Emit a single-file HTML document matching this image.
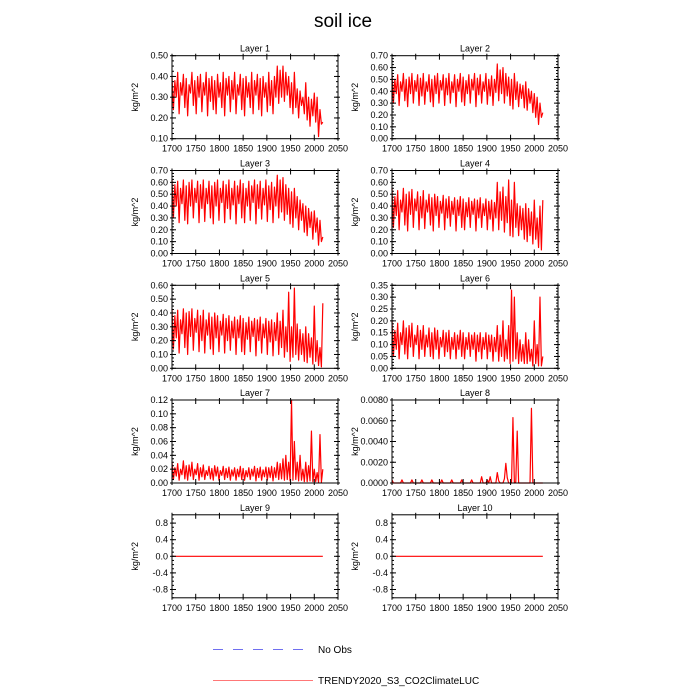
<!DOCTYPE html>
<html><head><meta charset="utf-8"><style>
html,body{margin:0;padding:0;background:#fff;}
svg{display:block;font-family:"Liberation Sans",sans-serif;}
</style></head><body>
<svg id="chart" width="700" height="700" viewBox="0 0 700 700" xmlns="http://www.w3.org/2000/svg">
<text x="343" y="27" font-size="19" text-anchor="middle">soil ice</text>
<g>
<line x1="213" y1="649.5" x2="310" y2="649.5" stroke="#6f6ff0" stroke-width="1" stroke-dasharray="10,10"/>
<text x="318" y="653" font-size="10">No Obs</text>
<line x1="213" y1="680.5" x2="313" y2="680.5" stroke="#ff7777" stroke-width="1"/>
<text x="318" y="684" font-size="10">TRENDY2020_S3_CO2ClimateLUC</text>
</g>
</svg>
<script>
const xTicks=[1700,1750,1800,1850,1900,1950,2000,2050];
const layerNames=["Layer 1","Layer 2","Layer 3","Layer 4","Layer 5","Layer 6","Layer 7","Layer 8","Layer 9","Layer 10"];
const yMins=[0.1,0,0,0,0,0,0,0,-1,-1];
const yMaxs=[0.5,0.7,0.7,0.7,0.6,0.35,0.12,0.008,1,1];
const yTicks=[
 [0.1,0.2,0.3,0.4,0.5],
 [0,0.1,0.2,0.3,0.4,0.5,0.6,0.7],
 [0,0.1,0.2,0.3,0.4,0.5,0.6,0.7],
 [0,0.1,0.2,0.3,0.4,0.5,0.6,0.7],
 [0,0.1,0.2,0.3,0.4,0.5,0.6],
 [0,0.05,0.1,0.15,0.2,0.25,0.3,0.35],
 [0,0.02,0.04,0.06,0.08,0.1,0.12],
 [0,0.002,0.004,0.006,0.008],
 [-0.8,-0.4,0,0.4,0.8],
 [-0.8,-0.4,0,0.4,0.8]];
const yDecimals=[2,2,2,2,2,2,2,4,1,1];
const firstYear=1700, yearStep=3;
const layer1=[0.40,0.24,0.38,0.30,0.42,0.22,0.37,0.31,0.41,0.25,0.39,0.21,0.36,0.32,0.42,0.26,0.38,0.22,0.40,0.30,0.41,0.23,0.37,0.31,0.42,0.21,0.39,0.28,0.40,0.24,0.38,0.22,0.41,0.30,0.37,0.25,0.42,0.21,0.39,0.31,0.40,0.23,0.38,0.29,0.42,0.22,0.36,0.31,0.41,0.24,0.39,0.21,0.40,0.30,0.37,0.25,0.42,0.22,0.38,0.31,0.41,0.24,0.39,0.21,0.40,0.30,0.37,0.23,0.42,0.26,0.38,0.22,0.40,0.30,
0.45,0.27,0.43,0.30,0.45,0.28,0.42,0.31,0.40,0.25,0.37,0.22,0.42,0.25,0.34,0.20,0.33,0.26,0.30,0.22,0.37,0.19,0.30,0.16,0.29,0.21,0.32,0.18,0.30,0.11,0.24,0.17,0.18];
const layer2=[0.55,0.30,0.50,0.38,0.54,0.28,0.48,0.40,0.55,0.32,0.50,0.27,0.52,0.38,0.55,0.30,0.49,0.40,0.54,0.28,0.51,0.36,0.55,0.29,0.48,0.40,0.54,0.31,0.50,0.27,0.53,0.38,0.55,0.30,0.49,0.41,0.54,0.28,0.51,0.37,0.55,0.30,0.48,0.39,0.54,0.27,0.50,0.40,0.55,0.31,0.52,0.28,0.49,0.38,0.54,0.30,0.50,0.41,0.55,0.27,0.51,0.37,0.54,0.30,0.48,0.40,0.55,0.29,0.50,0.36,0.53,0.28,0.50,0.39,
0.63,0.32,0.58,0.38,0.60,0.30,0.55,0.36,0.52,0.28,0.50,0.25,0.55,0.33,0.48,0.27,0.46,0.34,0.45,0.26,0.48,0.24,0.42,0.30,0.40,0.22,0.38,0.18,0.35,0.12,0.30,0.18,0.22];
const layer3=[0.62,0.30,0.58,0.40,0.61,0.26,0.55,0.42,0.62,0.28,0.57,0.25,0.60,0.40,0.62,0.30,0.55,0.43,0.61,0.26,0.58,0.38,0.62,0.27,0.55,0.42,0.61,0.30,0.57,0.25,0.60,0.40,0.62,0.28,0.55,0.43,0.61,0.26,0.58,0.38,0.62,0.29,0.55,0.41,0.61,0.25,0.57,0.42,0.62,0.30,0.59,0.26,0.55,0.40,0.61,0.28,0.57,0.43,0.62,0.25,0.58,0.38,0.61,0.29,0.55,0.41,0.62,0.27,0.57,0.37,0.60,0.26,0.56,0.40,
0.66,0.30,0.62,0.35,0.64,0.28,0.58,0.33,0.55,0.25,0.52,0.22,0.55,0.30,0.48,0.20,0.45,0.28,0.42,0.18,0.40,0.15,0.38,0.22,0.35,0.12,0.36,0.18,0.30,0.07,0.28,0.10,0.14];
const layer4=[0.55,0.22,0.48,0.32,0.53,0.20,0.45,0.35,0.55,0.24,0.50,0.19,0.52,0.33,0.54,0.22,0.46,0.36,0.52,0.20,0.48,0.30,0.53,0.21,0.45,0.35,0.50,0.24,0.47,0.19,0.50,0.32,0.48,0.22,0.44,0.34,0.49,0.20,0.46,0.30,0.48,0.23,0.44,0.33,0.47,0.19,0.45,0.32,0.48,0.22,0.46,0.20,0.43,0.31,0.47,0.22,0.44,0.33,0.46,0.19,0.45,0.30,0.47,0.22,0.42,0.32,0.46,0.20,0.44,0.29,0.45,0.19,0.43,0.30,
0.60,0.20,0.52,0.28,0.56,0.18,0.48,0.26,0.62,0.15,0.45,0.14,0.60,0.22,0.42,0.15,0.40,0.20,0.38,0.12,0.42,0.10,0.38,0.15,0.35,0.08,0.45,0.12,0.30,0.05,0.40,0.03,0.45];
const layer5=[0.43,0.14,0.38,0.22,0.42,0.11,0.35,0.25,0.43,0.15,0.40,0.10,0.41,0.23,0.43,0.13,0.36,0.26,0.42,0.12,0.38,0.20,0.42,0.11,0.35,0.24,0.40,0.14,0.37,0.10,0.40,0.22,0.38,0.12,0.34,0.24,0.39,0.11,0.36,0.20,0.38,0.13,0.34,0.22,0.37,0.10,0.35,0.22,0.38,0.12,0.36,0.10,0.33,0.21,0.37,0.12,0.34,0.23,0.36,0.09,0.35,0.20,0.37,0.11,0.32,0.22,0.36,0.10,0.34,0.19,0.35,0.09,0.33,0.20,
0.40,0.10,0.34,0.15,0.42,0.08,0.30,0.12,0.55,0.05,0.30,0.08,0.58,0.10,0.32,0.06,0.28,0.10,0.25,0.05,0.30,0.04,0.25,0.08,0.22,0.03,0.45,0.05,0.20,0.02,0.15,0.01,0.47];
const layer6=[0.20,0.05,0.16,0.08,0.19,0.04,0.15,0.10,0.20,0.06,0.17,0.04,0.18,0.09,0.19,0.05,0.14,0.10,0.18,0.04,0.16,0.08,0.18,0.05,0.14,0.09,0.17,0.05,0.15,0.04,0.17,0.08,0.16,0.04,0.13,0.09,0.16,0.05,0.15,0.07,0.16,0.04,0.13,0.08,0.15,0.04,0.14,0.08,0.16,0.05,0.15,0.04,0.13,0.08,0.15,0.05,0.14,0.08,0.15,0.03,0.14,0.07,0.15,0.04,0.13,0.08,0.15,0.04,0.14,0.07,0.14,0.03,0.13,0.07,
0.18,0.03,0.14,0.05,0.20,0.03,0.12,0.04,0.18,0.02,0.33,0.03,0.30,0.04,0.15,0.02,0.12,0.03,0.10,0.02,0.15,0.02,0.12,0.03,0.08,0.01,0.20,0.02,0.10,0.01,0.30,0.01,0.05];
const layer7=[0.030,0.005,0.022,0.010,0.028,0.004,0.020,0.012,0.032,0.006,0.025,0.004,0.026,0.010,0.030,0.005,0.020,0.012,0.028,0.004,0.022,0.009,0.026,0.005,0.018,0.011,0.024,0.006,0.021,0.004,0.025,0.010,0.023,0.004,0.018,0.011,0.024,0.005,0.021,0.008,0.023,0.004,0.019,0.010,0.022,0.004,0.020,0.009,0.024,0.005,0.021,0.004,0.018,0.009,0.022,0.005,0.020,0.010,0.024,0.003,0.021,0.008,0.023,0.004,0.019,0.009,0.023,0.004,0.022,0.008,0.024,0.003,0.022,0.008,
0.030,0.005,0.028,0.006,0.035,0.004,0.040,0.005,0.030,0.003,0.120,0.004,0.060,0.005,0.030,0.003,0.040,0.004,0.020,0.002,0.030,0.002,0.025,0.003,0.075,0.002,0.020,0.002,0.015,0.001,0.070,0.001,0.020];
const layer8=[0.0003,0,0,0,0,0,0,0.0003,0,0,0,0,0,0,0.0003,0,0,0,0,0,0,0.0003,0,0,0,0,0,0,0.0003,0,0,0,0,0,0,0.0003,0,0,0,0,0,0,0.0003,0,0,0,0,0,0,0.0003,0,0,0,0,0,0,0.0003,0,0,0,0,0,0,0.0006,0,0,0,0.0003,0,0.0006,0,0,0,0,
0.001,0.0002,0,0,0,0.0004,0.0019,0.0005,0,0,0,0.0063,0,0.0001,0.005,0,0,0,0,0,0,0,0,0,0.0072,0,0,0,0,0,0,0,0];
const layer9=[0,0,0,0,0,0,0,0,0,0,0,0,0,0,0,0,0,0,0,0,0,0,0,0,0,0,0,0,0,0,0,0,0,0,0,0,0,0,0,0,0,0,0,0,0,0,0,0,0,0,0,0,0,0,0,0,0,0,0,0,0,0,0,0,0,0,0,0,0,0,0,0,0,0,0,0,0,0,0,0,0,0,0,0,0,0,0,0,0,0,0,0,0,0,0,0,0,0,0,0,0,0,0,0,0,0,0];
const layer10=[0,0,0,0,0,0,0,0,0,0,0,0,0,0,0,0,0,0,0,0,0,0,0,0,0,0,0,0,0,0,0,0,0,0,0,0,0,0,0,0,0,0,0,0,0,0,0,0,0,0,0,0,0,0,0,0,0,0,0,0,0,0,0,0,0,0,0,0,0,0,0,0,0,0,0,0,0,0,0,0,0,0,0,0,0,0,0,0,0,0,0,0,0,0,0,0,0,0,0,0,0,0,0,0,0,0,0];
const series=[layer1,layer2,layer3,layer4,layer5,layer6,layer7,layer8,layer9,layer10];

const NS="http://www.w3.org/2000/svg";
const svg=document.getElementById('chart');
function mk(tag,attrs,parent){const e=document.createElementNS(NS,tag);for(const k in attrs)e.setAttribute(k,attrs[k]);parent.appendChild(e);return e;}
const colX=[172,392], rowY=[55.7,170.5,285.3,400,514.8], PW=166, PH=83;
for(let p=0;p<10;p++){
  const x0=colX[p%2], y0=rowY[Math.floor(p/2)];
  const ymin=yMins[p], ymax=yMaxs[p];
  const sx=v=>x0+(v-1700)/(2050-1700)*PW;
  const sy=v=>y0+PH-(v-ymin)/(ymax-ymin)*PH;
  const g=mk('g',{},svg);
  
  
  const t=mk('text',{x:x0+PW/2,y:y0-4,'font-size':9,'text-anchor':'middle'},g);
  
  
  t.textContent=layerNames[p];
  const vals=series[p];
  let d='';
  vals.forEach((v,i)=>{const yr=firstYear+i*yearStep;d+=(i?'L':'M')+sx(yr).toFixed(2)+','+sy(v).toFixed(2);});
  const ln=mk('path',{d:d,fill:'none',stroke:'#ff0000','stroke-width':1.2,'stroke-linejoin':'round'},g);
  
  
  const fr=mk('rect',{x:x0,y:y0,width:PW,height:PH,fill:'none',stroke:'#000','stroke-width':1},g);
  
  
  xTicks.forEach(yr=>{
    const X=sx(yr);
    mk('line',{x1:X,y1:y0+PH+2,x2:X,y2:y0+PH-4,stroke:'#000','stroke-width':1},g);
    mk('line',{x1:X,y1:y0-2,x2:X,y2:y0+4,stroke:'#000','stroke-width':1},g);
    const tl=mk('text',{x:X,y:y0+PH+13,'font-size':9,'text-anchor':'middle'},g);
    
    
    tl.textContent=yr;
  });
  const tk=yTicks[p];
  const step=(tk[1]-tk[0]);
  for(let v=ymin;v<=ymax+1e-9;v+=step/4){
    const Y=sy(v);
    mk('line',{x1:x0,y1:Y,x2:x0+2,y2:Y,stroke:'#000'},g);
    mk('line',{x1:x0+PW,y1:Y,x2:x0+PW-2,y2:Y,stroke:'#000'},g);
  }
  tk.forEach(v=>{
    const Y=sy(v);
    mk('line',{x1:x0-2,y1:Y,x2:x0+4,y2:Y,stroke:'#000'},g);
    mk('line',{x1:x0+PW+2,y1:Y,x2:x0+PW-4,y2:Y,stroke:'#000'},g);
    const yl=mk('text',{x:x0-4,y:Y+3,'font-size':9,'text-anchor':'end'},g);
    
    
    yl.textContent=v.toFixed(yDecimals[p]);
  });
  const ax=x0-34;
  const yt=mk('text',{x:ax,y:y0+PH/2,'font-size':9,'text-anchor':'middle',transform:`rotate(-90 ${ax} ${y0+PH/2})`},g);
  
  
  yt.textContent='kg/m^2';
}
</script>
</body></html>
